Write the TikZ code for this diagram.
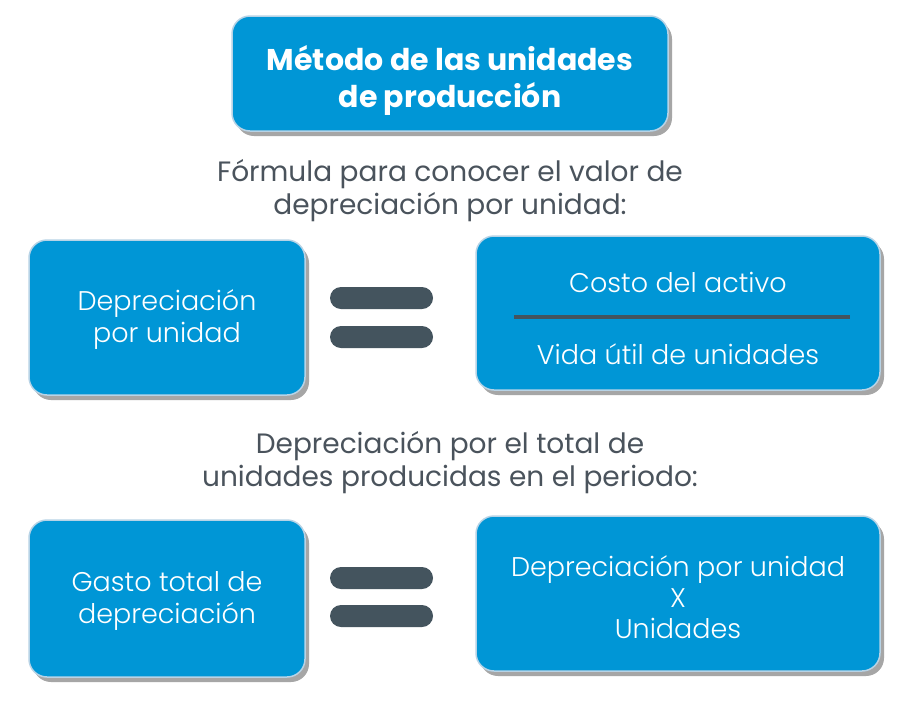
\documentclass[tikz,border=0pt]{standalone}
\usepackage{fontspec}
\setmainfont{Poppins}
\newfontfamily\lightfont{Poppins}[UprightFont=* Light]
\usetikzlibrary{positioning,shadows,calc}

\definecolor{boxblue}{HTML}{0096D6}
\definecolor{boxedge}{HTML}{B7D3E6}
\definecolor{slate}{HTML}{44545E}
\definecolor{txtgrey}{HTML}{4A535C}

\begin{document}
\begin{tikzpicture}[x=1pt,y=-1pt,
    bluebox/.style={draw=boxedge, line width=1.5pt, fill=boxblue, rounded corners=18pt,
      inner sep=0pt,
      general shadow={fill=black!35, shadow xshift=4pt, shadow yshift=-5pt}},
    boxtext/.style={text=white, align=center, inner sep=0pt,
      font=\lightfont\fontsize{27}{32}\selectfont},
    eqbar/.style={fill=slate, rounded corners=11pt, minimum width=103pt,
      minimum height=22pt, inner sep=0pt},
    caption/.style={text=txtgrey, align=center, font=\fontsize{28}{33}\selectfont}]
    \fill[white] (0,0) rectangle (909,718);
    \useasboundingbox (0,0) rectangle (909,718);

    % title
    \node[bluebox, minimum width=436pt, minimum height=115pt] (title) at (450,73.5) {};
    \node[text=white, align=center, font=\bfseries\fontsize{30}{37}\selectfont]
      (title-t) at ([yshift=-7pt]title.center) {Método de las unidades\\de producción};

    % unit depreciation
    \node[caption] (cap1) at (450,191) {Fórmula para conocer el valor de\\depreciación por unidad:};
    \node[bluebox, minimum width=276pt, minimum height=155pt] (dpu) at (167,317.5) {};
    \node[boxtext] (dpu-t) at ([yshift=-2pt]dpu.center) {Depreciación\\por unidad};
    \node[eqbar] (eqa1) at (381.5,298) {};
    \node[eqbar] (eqa2) at (381.5,337) {};
    \node[bluebox, minimum width=404pt, minimum height=154pt] (frac) at (678,313) {};
    \node[boxtext] (cost) at (678,282) {Costo del activo};
    \node[boxtext] (life) at (678,354) {Vida útil de unidades};
    \draw[slate, line width=4pt] ($(frac.west)+(39,4)$) -- ($(frac.east)+(-31,4)$);

    % total for the period
    \node[caption] (cap2) at (450,463) {Depreciación por el total de\\unidades producidas en el periodo:};
    \node[bluebox, minimum width=276pt, minimum height=157pt] (gasto) at (167,598.5) {};
    \node[boxtext] (gasto-t) at ([yshift=-2pt]gasto.center) {Gasto total de\\depreciación};
    \node[eqbar] (eqb1) at (381.5,578) {};
    \node[eqbar] (eqb2) at (381.5,616) {};
    \node[bluebox, minimum width=404pt, minimum height=155pt] (prod) at (678,593.5) {};
    \node[boxtext, font=\lightfont\fontsize{27}{31}\selectfont] (prod-t)
      at ([yshift=-4pt]prod.center) {Depreciación por unidad\\X\\Unidades};
\end{tikzpicture}
\end{document}
